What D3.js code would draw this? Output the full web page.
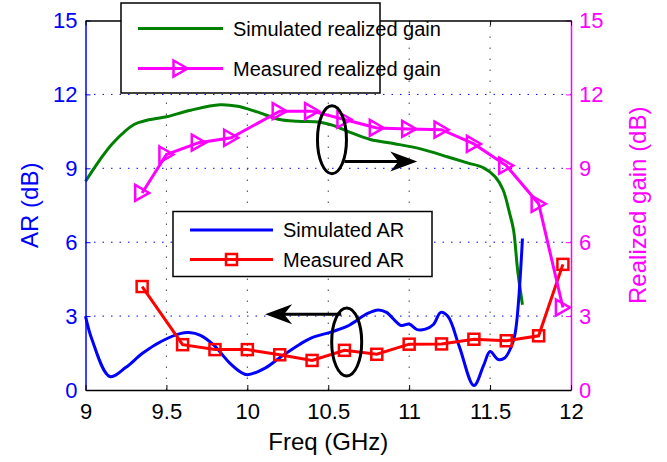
<!DOCTYPE html>
<html>
<head>
<meta charset="utf-8">
<script src="https://cdn.jsdelivr.net/npm/d3@7"></script>
<style>
  html, body { margin: 0; padding: 0; background: #fff; }
  svg { display: block; font-family: "Liberation Sans", Arial, Helvetica, sans-serif; }
</style>
</head>
<body>
<svg id="chart" width="667" height="462"></svg>
<script>
// ---- data ----
const xTicks = [9, 9.5, 10, 10.5, 11, 11.5, 12];
const yTicks = [0, 3, 6, 9, 12, 15];

// simulated axial ratio (dB)
const simArFreq = [9.00, 9.04, 9.15, 9.25, 9.35, 9.47, 9.59, 9.64, 9.71, 9.79, 9.89, 9.96, 10.00,
  10.11, 10.21, 10.32, 10.39, 10.53, 10.63, 10.74, 10.81, 10.86, 10.95, 11.00, 11.05, 11.10,
  11.15, 11.195, 11.24, 11.31, 11.40, 11.46, 11.50, 11.55, 11.59, 11.63, 11.655, 11.70];
const simArVal = [3.00, 2.05, 0.55, 0.92, 1.48, 1.98, 2.30, 2.33, 2.22, 1.84, 1.10, 0.72, 0.62,
  0.89, 1.36, 1.84, 2.10, 2.38, 2.63, 3.10, 3.25, 3.15, 2.62, 2.68, 2.45, 2.47,
  2.66, 3.15, 2.98, 1.76, 0.18, 1.00, 1.56, 1.24, 1.30, 1.74, 2.30, 6.15];

// measured axial ratio (dB)
const measArFreq = [9.35, 9.6, 9.8, 10.0, 10.2, 10.4, 10.6, 10.8, 11.0, 11.2, 11.4, 11.6, 11.8, 11.95];
const measArVal  = [4.20, 1.84, 1.64, 1.64, 1.43, 1.20, 1.61, 1.45, 1.86, 1.87, 2.06, 2.00, 2.20, 5.10];

// simulated realized gain (dB)
const simGainFreq = [9.00, 9.09, 9.17, 9.30, 9.38, 9.50, 9.65, 9.83, 9.94, 10.06, 10.20, 10.31,
  10.45, 10.53, 10.62, 10.76, 10.91, 11.07, 11.24, 11.36, 11.46, 11.53, 11.58, 11.62, 11.645, 11.67, 11.70];
const simGainVal = [8.47, 9.35, 10.03, 10.78, 10.95, 11.09, 11.36, 11.58, 11.52, 11.29, 10.98, 10.91,
  10.87, 10.74, 10.50, 10.17, 10.00, 9.79, 9.46, 9.22, 9.02, 8.67, 8.13, 7.19, 6.50, 4.88, 3.46];

// measured realized gain (dB)
const measGainFreq = [9.35, 9.5, 9.7, 9.9, 10.2, 10.4, 10.6, 10.8, 11.0, 11.2, 11.4, 11.6, 11.8, 11.95];
const measGainVal  = [8.00, 9.56, 10.04, 10.24, 11.32, 11.32, 10.98, 10.64, 10.60, 10.57, 9.99, 9.11, 7.56, 3.35];

// annotation markers: ellipse centre [freq, value] and arrow [freq from, freq to, value]
const gainNote = { ellipse: [10.523, 10.16], arrow: [10.60, 11.05, 9.28] };
const arNote   = { ellipse: [10.614, 1.95],  arrow: [10.58, 10.11, 3.08] };

// ---- layout ----
const svg = d3.select("#chart");
const plotL = 85.5, plotR = 571, plotT = 20.5, plotB = 390;
const x = d3.scaleLinear().domain([9, 12]).range([plotL, plotR]);
const yL = d3.scaleLinear().domain([0, 15]).range([plotB, plotT]);
const yR = d3.scaleLinear().domain([0, 15]).range([plotB, plotT]);

const BLUE = "#0000ff", MAG = "#ff00ff", RED = "#ff0000", GREEN = "#008000";

// grid
const grid = svg.append("g");
grid.selectAll("line.h").data(yTicks.filter(d => d > 0 && d < 15)).enter().append("line")
  .attr("x1", plotL).attr("x2", plotR).attr("y1", d => yL(d)).attr("y2", d => yL(d))
  .attr("stroke", BLUE).attr("stroke-width", 1).attr("stroke-dasharray", "1.5,7");
grid.selectAll("line.v").data(xTicks.filter(d => d > 9 && d < 12)).enter().append("line")
  .attr("y1", plotB).attr("y2", plotT).attr("x1", d => x(d)).attr("x2", d => x(d))
  .attr("stroke", "#444").attr("stroke-width", 1).attr("stroke-dasharray", "1.5,9.5");

// data curves
const zip = (a, b) => a.map((f, i) => [f, b[i]]);
const lineL = d3.line().x(d => x(d[0])).y(d => yL(d[1])).curve(d3.curveCatmullRom.alpha(0.5));
const lineR = d3.line().x(d => x(d[0])).y(d => yR(d[1])).curve(d3.curveCatmullRom.alpha(0.5));
const lineLin = d3.line().x(d => x(d[0])).y(d => yL(d[1]));
const lineLinR = d3.line().x(d => x(d[0])).y(d => yR(d[1]));

const plot = svg.append("g");
plot.append("path").attr("d", lineR(zip(simGainFreq, simGainVal)))
  .attr("fill", "none").attr("stroke", GREEN).attr("stroke-width", 3);
plot.append("path").attr("d", lineL(zip(simArFreq, simArVal)))
  .attr("fill", "none").attr("stroke", BLUE).attr("stroke-width", 3);
plot.append("path").attr("d", lineLin(zip(measArFreq, measArVal)))
  .attr("fill", "none").attr("stroke", RED).attr("stroke-width", 3);
plot.append("path").attr("d", lineLinR(zip(measGainFreq, measGainVal)))
  .attr("fill", "none").attr("stroke", MAG).attr("stroke-width", 3);

const triPath = "M-7,-8L7,0L-7,8Z";
function square(g, cx, cy) {
  g.append("rect").attr("x", cx - 5.5).attr("y", cy - 5.5).attr("width", 11).attr("height", 11)
    .attr("fill", "none").attr("stroke", RED).attr("stroke-width", 2.5);
}
function tri(g, cx, cy) {
  g.append("path").attr("d", triPath).attr("transform", `translate(${cx},${cy})`)
    .attr("fill", "none").attr("stroke", MAG).attr("stroke-width", 2.5).attr("stroke-linejoin", "miter");
}
zip(measArFreq, measArVal).forEach(d => square(plot, x(d[0]), yL(d[1])));
zip(measGainFreq, measGainVal).forEach(d => tri(plot, x(d[0]), yR(d[1])));

// axes
const axL = svg.append("g").attr("transform", `translate(${plotL},0)`)
  .call(d3.axisLeft(yL).tickValues(yTicks).tickSizeInner(-5).tickSizeOuter(0).tickPadding(8));
const axR = svg.append("g").attr("transform", `translate(${plotR},0)`)
  .call(d3.axisRight(yR).tickValues(yTicks).tickSizeInner(-5).tickSizeOuter(0).tickPadding(8));
const axB = svg.append("g").attr("transform", `translate(0,${plotB})`)
  .call(d3.axisBottom(x).tickValues(xTicks).tickFormat(d3.format("")).tickSizeInner(-5).tickSizeOuter(0).tickPadding(13));
const axT = svg.append("g").attr("transform", `translate(0,${plotT})`)
  .call(d3.axisTop(x).tickValues(xTicks).tickFormat("").tickSizeInner(-5).tickSizeOuter(0));

function styleAxis(g, color) {
  g.select(".domain").attr("stroke", color).attr("stroke-width", 1.5);
  g.selectAll(".tick line").attr("stroke", color).attr("stroke-width", 1);
  g.selectAll(".tick text").attr("fill", color).attr("font-size", 22)
    .attr("font-family", "Liberation Sans, Arial, sans-serif");
}
styleAxis(axB, "#000");
styleAxis(axT, "#000");
styleAxis(axL, BLUE);
styleAxis(axR, MAG);

// axis titles
svg.append("text").attr("x", (plotL + plotR) / 2).attr("y", 450).attr("text-anchor", "middle")
  .attr("font-size", 24).attr("fill", "#000").text("Freq (GHz)");
svg.append("text").attr("transform", `translate(38,${(plotT + plotB) / 2}) rotate(-90)`)
  .attr("text-anchor", "middle").attr("font-size", 24).attr("fill", BLUE).text("AR (dB)");
svg.append("text").attr("transform", `translate(646,${(plotT + plotB) / 2}) rotate(-90)`)
  .attr("text-anchor", "middle").attr("font-size", 24).attr("fill", MAG).text("Realized gain (dB)");

// annotations: ellipses with arrows pointing to the matching axis
function arrow(g, x1, x2, yy) {
  const dir = Math.sign(x2 - x1);
  g.append("line").attr("x1", x1).attr("x2", x2 - dir * 14).attr("y1", yy).attr("y2", yy)
    .attr("stroke", "#000").attr("stroke-width", 3);
  g.append("path")
    .attr("d", `M0,0L${-dir * 27},${-10}L${-dir * 19},0L${-dir * 27},${10}Z`)
    .attr("transform", `translate(${x2},${yy})`).attr("fill", "#000");
}
const notes = svg.append("g");
[[gainNote, yR, 14.5, 34], [arNote, yL, 15, 34]].forEach(([n, ys, rx, ry]) => {
  notes.append("ellipse").attr("cx", x(n.ellipse[0])).attr("cy", ys(n.ellipse[1]))
    .attr("rx", rx).attr("ry", ry).attr("fill", "none").attr("stroke", "#000").attr("stroke-width", 3);
  arrow(notes, x(n.arrow[0]), x(n.arrow[1]), ys(n.arrow[2]));
});

// legends
function legend(box, items) {
  const g = svg.append("g");
  g.append("rect").attr("x", box[0]).attr("y", box[1]).attr("width", box[2]).attr("height", box[3])
    .attr("fill", "#fff").attr("stroke", "#000").attr("stroke-width", 1.5);
  items.forEach(it => {
    g.append("line").attr("x1", it.x1).attr("x2", it.x2).attr("y1", it.y).attr("y2", it.y)
      .attr("stroke", it.color).attr("stroke-width", 3);
    if (it.marker) it.marker(g, (it.x1 + it.x2) / 2, it.y);
    g.append("text").attr("x", it.tx).attr("y", it.y + 7).attr("font-size", 20).attr("fill", "#000").text(it.label);
  });
}
legend([121, 3, 259, 90], [
  { x1: 138, x2: 223, y: 28.5, color: GREEN, tx: 233, label: "Simulated realized gain" },
  { x1: 138, x2: 223, y: 68.5, color: MAG, tx: 233, label: "Measured realized gain", marker: tri }
]);
legend([173, 211.5, 259, 65], [
  { x1: 190, x2: 273, y: 230, color: BLUE, tx: 283, label: "Simulated AR" },
  { x1: 190, x2: 273, y: 259.5, color: RED, tx: 283, label: "Measured AR", marker: square }
]);
</script>
</body>
</html>
